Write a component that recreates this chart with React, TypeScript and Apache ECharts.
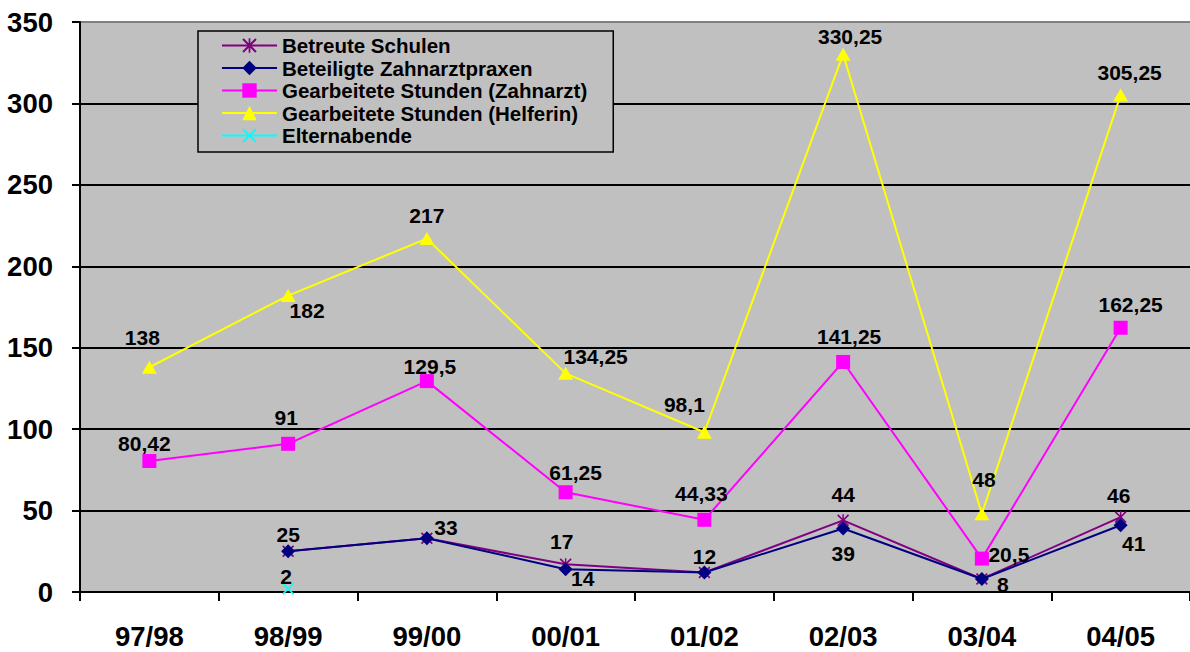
import React, { useEffect, useRef } from "react";
import * as echarts from "echarts";

const categories = ["97/98", "98/99", "99/00", "00/01", "01/02", "02/03", "03/04", "04/05"];
const yTicks = [0, 50, 100, 150, 200, 250, 300, 350];

const seriesNames = [
  "Betreute Schulen",
  "Beteiligte Zahnarztpraxen",
  "Gearbeitete Stunden (Zahnarzt)",
  "Gearbeitete Stunden (Helferin)",
  "Elternabende",
];

const schulen = [null, 25, 33, 17, 12, 44, 8, 46];
const praxen = [null, 25, 33, 14, 12, 39, 8, 41];
const zahnarzt = [80.42, 91, 129.5, 61.25, 44.33, 141.25, 20.5, 162.25];
const helferin = [138, 182, 217, 134.25, 98.1, 330.25, 48, 305.25];
const elternabende = [null, 2, null, null, null, null, null, null];

// label placement (offset from the marker centre), null = no label
const schulenLabelOffset = [null, [0, -17], [19, -11], [-4, -23], [0, -16], [0, -26], null, [-2, -22]];
const praxenLabelOffset = [null, null, null, [17, 9], null, [0, 25], [21, 6], [13, 18]];
const zahnarztLabelOffset = [[-5, -18], [-2, -26], [3, -15], [10, -20], [-3, -26], [6, -25], [27, -4], [10, -23]];
const helferinLabelOffset = [[-7, -30], [19, 15], [0, -23], [30, -17], [-20, -28], [7, -18], [2, -34], [9, -22]];
const elternLabelOffset = [null, [-2, -12], null, null, null, null, null, null];

const colors = ["#800080", "#000080", "#FF00FF", "#FFFF00", "#00FFFF"];

const FONT = "'Liberation Sans', Arial, sans-serif";

const crossPath =
  "path://M0,1 L1,0 L5,4 L9,0 L10,1 L6,5 L10,9 L9,10 L5,6 L1,10 L0,9 L4,5 Z";
const starPath =
  "path://M0,1 L1,0 L5,4 L9,0 L10,1 L6,5 L10,9 L9,10 L5,6 L1,10 L0,9 L4,5 Z M4.4,0 L5.6,0 L5.6,10 L4.4,10 Z";

function fmt(v: number) {
  return String(v).replace(".", ",");
}

function buildData(values: (number | null)[], offsets: (number[] | null)[]) {
  return values.map((v, i) => {
    const off = offsets[i];
    if (v === null) return { value: null };
    return {
      value: v,
      label: off
        ? { show: true, position: "inside", offset: off }
        : { show: false },
    };
  });
}

export default function App() {
  const ref = useRef<HTMLDivElement>(null);

  useEffect(() => {
    if (!ref.current) return;
    const chart = echarts.init(ref.current, null, { renderer: "svg" });

    const labelStyle = {
      fontFamily: FONT,
      fontWeight: "bold",
      fontSize: 21,
      color: "#000",
      formatter: (p: any) => fmt(p.value),
    };

    const mk = (
      idx: number,
      values: (number | null)[],
      offsets: (number[] | null)[],
      symbol: string,
      symbolSize: number | number[]
    ) => ({
      name: seriesNames[idx],
      type: "line",
      data: buildData(values, offsets),
      symbol,
      symbolSize,
      showAllSymbol: true,
      connectNulls: false,
      lineStyle: { color: colors[idx], width: 2 },
      itemStyle: { color: colors[idx] },
      label: labelStyle,
      emphasis: { disabled: true },
    });

    chart.setOption({
      animation: false,
      backgroundColor: "#ffffff",
      color: colors,
      grid: { left: 80, right: 0, top: 22, bottom: 60, show: true, backgroundColor: "#C0C0C0", borderWidth: 0 },
      legend: {
        orient: "vertical",
        left: 198,
        top: 31,
        padding: [4, 26, 6, 23],
        itemWidth: 55,
        itemHeight: 18,
        itemGap: 1.5,
        backgroundColor: "#C0C0C0",
        borderColor: "#000",
        borderWidth: 1.5,
        data: seriesNames,
        textStyle: { fontFamily: FONT, fontWeight: "bold", fontSize: 20.5, color: "#000", lineHeight: 20 },
      },
      xAxis: {
        type: "category",
        data: categories,
        boundaryGap: true,
        axisLine: { lineStyle: { color: "#000", width: 2 } },
        axisTick: { show: true, length: 9, lineStyle: { color: "#000", width: 2 } },
        axisLabel: { fontFamily: FONT, fontWeight: "bold", fontSize: 27.5, color: "#000", margin: 30 },
        splitLine: { show: false },
      },
      yAxis: {
        type: "value",
        min: yTicks[0],
        max: yTicks[yTicks.length - 1],
        interval: 50,
        axisLine: { show: true, lineStyle: { color: "#000", width: 2 } },
        axisTick: { show: true, length: 8, lineStyle: { color: "#000", width: 2 } },
        axisLabel: { fontFamily: FONT, fontWeight: "bold", fontSize: 27.5, color: "#000", margin: 27 },
        splitLine: {
          show: true,
          lineStyle: {
            color: ["#000", "#000", "#000", "#000", "#000", "#000", "#000", "#808080"],
            width: 2,
          },
        },
      },
      series: [
        mk(0, schulen, schulenLabelOffset, starPath, 12),
        mk(1, praxen, praxenLabelOffset, "diamond", 14),
        mk(2, zahnarzt, zahnarztLabelOffset, "rect", 14),
        mk(3, helferin, helferinLabelOffset, "triangle", [15, 13]),
        mk(4, elternabende, elternLabelOffset, crossPath, 12),
      ],
    });

    return () => chart.dispose();
  }, []);

  return (
    <div
      ref={ref}
      style={{ position: "fixed", left: 0, top: 0, width: 1190, height: 652, background: "#fff" }}
    />
  );
}
